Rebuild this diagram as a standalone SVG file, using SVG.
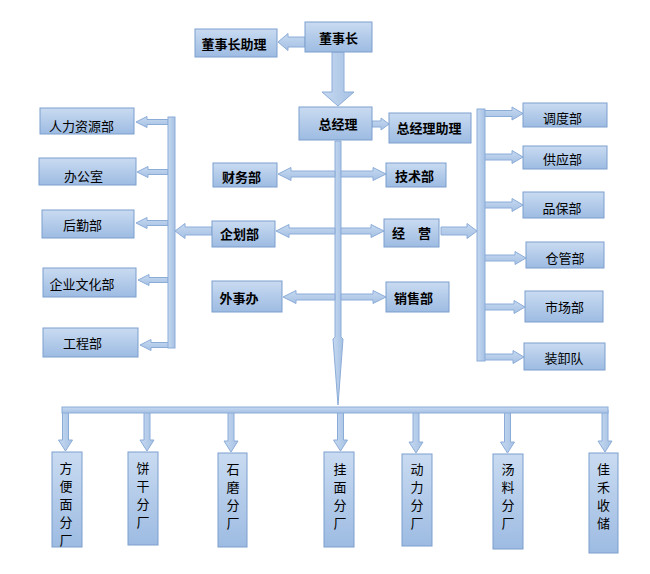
<svg xmlns="http://www.w3.org/2000/svg" width="650" height="574" viewBox="0 0 650 574">
<defs>
<linearGradient id="gb" x1="0" y1="0" x2="0" y2="1">
<stop offset="0" stop-color="#c9dbf1"/>
<stop offset="1" stop-color="#9dbbe2"/>
</linearGradient>
<linearGradient id="ga" x1="0" y1="0" x2="0" y2="1">
<stop offset="0" stop-color="#c6d9f0"/>
<stop offset="1" stop-color="#a6c1e4"/>
</linearGradient>
<linearGradient id="gh" x1="0" y1="0" x2="1" y2="0">
<stop offset="0" stop-color="#c6d9f0"/>
<stop offset="1" stop-color="#a6c1e4"/>
</linearGradient>
</defs>
<style>
.box{fill:url(#gb);stroke:#7c9fcd;stroke-width:1}
.ar{fill:url(#ga);stroke:#8cacd8;stroke-width:1}
.av{fill:url(#gh);stroke:#8cacd8;stroke-width:1}
text{font-family:"Noto Sans CJK SC","Liberation Sans",sans-serif;font-size:13px;fill:#000;text-anchor:middle;dominant-baseline:central}
.b{font-weight:bold}
</style>
<rect width="650" height="574" fill="#fff"/>
<g id="connectors">
<polygon class="ar" points="305,37 288,37 288,33.5 278,42 288,50.5 288,47 305,47"/>
<polygon class="av" points="332,52 344,52 344,92 354,92 338,106 322,92 332,92"/>
<polygon class="ar" points="372,121 381,121 381,118 389,124 381,130 381,127 372,127"/>
<polygon class="av" points="335,141 341,141 341,337 343,339 338,405 333,339 335,337"/>
<polygon class="ar" points="335,171 291,171 291,167.5 278,174 291,180.5 291,177 335,177"/>
<polygon class="ar" points="341,171 373,171 373,167.5 386,174 373,180.5 373,177 341,177"/>
<polygon class="ar" points="335,228 289,228 289,224.5 276,231 289,237.5 289,234 335,234"/>
<polygon class="ar" points="341,228 371,228 371,224.5 384,231 371,237.5 371,234 341,234"/>
<polygon class="ar" points="335,294 296,294 296,290.5 283,297 296,303.5 296,300 335,300"/>
<polygon class="ar" points="341,294 373,294 373,290.5 386,297 373,303.5 373,300 341,300"/>
<polygon class="ar" points="212,227 185,227 185,223.5 175,231 185,238.5 185,235 212,235"/>
<polygon class="ar" points="441,227 467,227 467,223.5 477,231 467,238.5 467,235 441,235"/>
<polygon class="ar" points="168,119.5 147,119.5 147,116.5 136,122 147,127.5 147,124.5 168,124.5"/>
<polygon class="ar" points="168,169.5 148,169.5 148,166.5 137,172 148,177.5 148,174.5 168,174.5"/>
<polygon class="ar" points="168,220.5 147,220.5 147,217.5 136,223 147,228.5 147,225.5 168,225.5"/>
<polygon class="ar" points="168,277.5 149,277.5 149,274.5 138,280 149,285.5 149,282.5 168,282.5"/>
<polygon class="ar" points="172,342.5 151,342.5 151,339.5 140,345 151,350.5 151,347.5 172,347.5"/>
<rect class="av" x="168" y="117" width="7" height="231"/>
<polygon class="ar" points="482,110.5 512,110.5 512,107 523,113.5 512,120 512,116.5 482,116.5"/>
<polygon class="ar" points="482,154 512,154 512,150.5 523,157 512,163.5 512,160 482,160"/>
<polygon class="ar" points="482,202 512,202 512,198.5 523,205 512,211.5 512,208 482,208"/>
<polygon class="ar" points="482,255 515,255 515,251.5 526,258 515,264.5 515,261 482,261"/>
<polygon class="ar" points="482,304 514,304 514,300.5 525,307 514,313.5 514,310 482,310"/>
<polygon class="ar" points="482,354 513,354 513,350.5 524,357 513,363.5 513,360 482,360"/>
<rect class="av" x="477" y="109" width="8" height="252"/>
<polygon class="av" points="62.5,410 68.5,410 68.5,440 72.5,440 65.5,451 58.5,440 62.5,440"/>
<polygon class="av" points="144,410 150,410 150,440 154,440 147,451 140,440 144,440"/>
<polygon class="av" points="228,410 234,410 234,441 238,441 231,452 224,441 228,441"/>
<polygon class="av" points="337.5,410 343.5,410 343.5,440 347.5,440 340.5,451 333.5,440 337.5,440"/>
<polygon class="av" points="413,410 419,410 419,442 423,442 416,453 409,442 413,442"/>
<polygon class="av" points="504.5,410 510.5,410 510.5,442 514.5,442 507.5,453 500.5,442 504.5,442"/>
<polygon class="av" points="602,410 608,410 608,441 612,441 605,452 598,441 602,441"/>
<rect class="ar" x="62" y="407" width="546" height="6"/>
</g>
<g id="n_dsz"><rect class="box" x="305" y="22" width="67" height="30"/><text class="b" x="338.5" y="37">董事长</text></g>
<g id="n_dszzl"><rect class="box" x="195" y="29" width="82" height="28"/><text class="b" x="234" y="43">董事长助理</text></g>
<g id="n_zjl"><rect class="box" x="299" y="107" width="73" height="33"/><text class="b" x="338" y="123">总经理</text></g>
<g id="n_zjlzl"><rect class="box" x="389" y="113" width="82" height="30"/><text class="b" x="429" y="127">总经理助理</text></g>
<g id="n_cwb"><rect class="box" x="213" y="163" width="64" height="24"/><text class="b" x="241.5" y="176">财务部</text></g>
<g id="n_jsb"><rect class="box" x="386" y="163" width="60" height="24"/><text class="b" x="414.5" y="175">技术部</text></g>
<g id="n_qhb"><rect class="box" x="212" y="221" width="63" height="26"/><text class="b" x="239.5" y="233">企划部</text></g>
<g id="n_jy"><rect class="box" x="384" y="219" width="55" height="28"/><text class="b" x="411.5" y="232">经　营</text></g>
<g id="n_wsb"><rect class="box" x="212" y="281" width="70" height="31"/><text class="b" x="239" y="297">外事办</text></g>
<g id="n_xsb"><rect class="box" x="386" y="282" width="63" height="30"/><text class="b" x="413.5" y="297">销售部</text></g>
<g id="n_rlzy"><rect class="box" x="40" y="108" width="94" height="26"/><text x="81.5" y="125">人力资源部</text></g>
<g id="n_bgs"><rect class="box" x="39" y="158" width="97" height="27"/><text x="83.5" y="175">办公室</text></g>
<g id="n_hqb"><rect class="box" x="42" y="210" width="92" height="28"/><text x="82.5" y="224">后勤部</text></g>
<g id="n_qywh"><rect class="box" x="43" y="268" width="93" height="29"/><text x="82" y="283">企业文化部</text></g>
<g id="n_gcb"><rect class="box" x="43" y="328" width="95" height="29"/><text x="82.5" y="342">工程部</text></g>
<g id="n_ddb"><rect class="box" x="523" y="103" width="84" height="24"/><text x="562.5" y="117">调度部</text></g>
<g id="n_gyb"><rect class="box" x="523" y="146" width="84" height="23"/><text x="562.5" y="158">供应部</text></g>
<g id="n_pbb"><rect class="box" x="523" y="192" width="81" height="26"/><text x="562" y="207">品保部</text></g>
<g id="n_cgb"><rect class="box" x="526" y="242" width="78" height="26"/><text x="565" y="257">仓管部</text></g>
<g id="n_scb"><rect class="box" x="525" y="291" width="78" height="31"/><text x="564.5" y="306">市场部</text></g>
<g id="n_zxd"><rect class="box" x="524" y="343" width="81" height="27"/><text x="564" y="357">装卸队</text></g>
<g id="n_fbm"><rect class="box" x="52" y="452" width="30" height="95"/><text x="66" y="467"><tspan x="66">方</tspan><tspan x="66" dy="18">便</tspan><tspan x="66" dy="18">面</tspan><tspan x="66" dy="18">分</tspan><tspan x="66" dy="18">厂</tspan></text></g>
<g id="n_bg"><rect class="box" x="128" y="452" width="30" height="93"/><text x="143" y="467"><tspan x="143">饼</tspan><tspan x="143" dy="18">干</tspan><tspan x="143" dy="18">分</tspan><tspan x="143" dy="18">厂</tspan></text></g>
<g id="n_sm"><rect class="box" x="218" y="453" width="29" height="94"/><text x="233" y="468"><tspan x="233">石</tspan><tspan x="233" dy="18">磨</tspan><tspan x="233" dy="18">分</tspan><tspan x="233" dy="18">厂</tspan></text></g>
<g id="n_gm"><rect class="box" x="324" y="452" width="30" height="95"/><text x="340" y="468"><tspan x="340">挂</tspan><tspan x="340" dy="18">面</tspan><tspan x="340" dy="18">分</tspan><tspan x="340" dy="18">厂</tspan></text></g>
<g id="n_dl"><rect class="box" x="402" y="454" width="30" height="92"/><text x="417" y="468"><tspan x="417">动</tspan><tspan x="417" dy="18">力</tspan><tspan x="417" dy="18">分</tspan><tspan x="417" dy="18">厂</tspan></text></g>
<g id="n_tl"><rect class="box" x="493" y="454" width="30" height="95"/><text x="508" y="468"><tspan x="508">汤</tspan><tspan x="508" dy="18">料</tspan><tspan x="508" dy="18">分</tspan><tspan x="508" dy="18">厂</tspan></text></g>
<g id="n_jhsc"><rect class="box" x="589" y="453" width="29" height="100"/><text x="603.5" y="468"><tspan x="603.5">佳</tspan><tspan x="603.5" dy="18">禾</tspan><tspan x="603.5" dy="18">收</tspan><tspan x="603.5" dy="18">储</tspan></text></g>
</svg>
